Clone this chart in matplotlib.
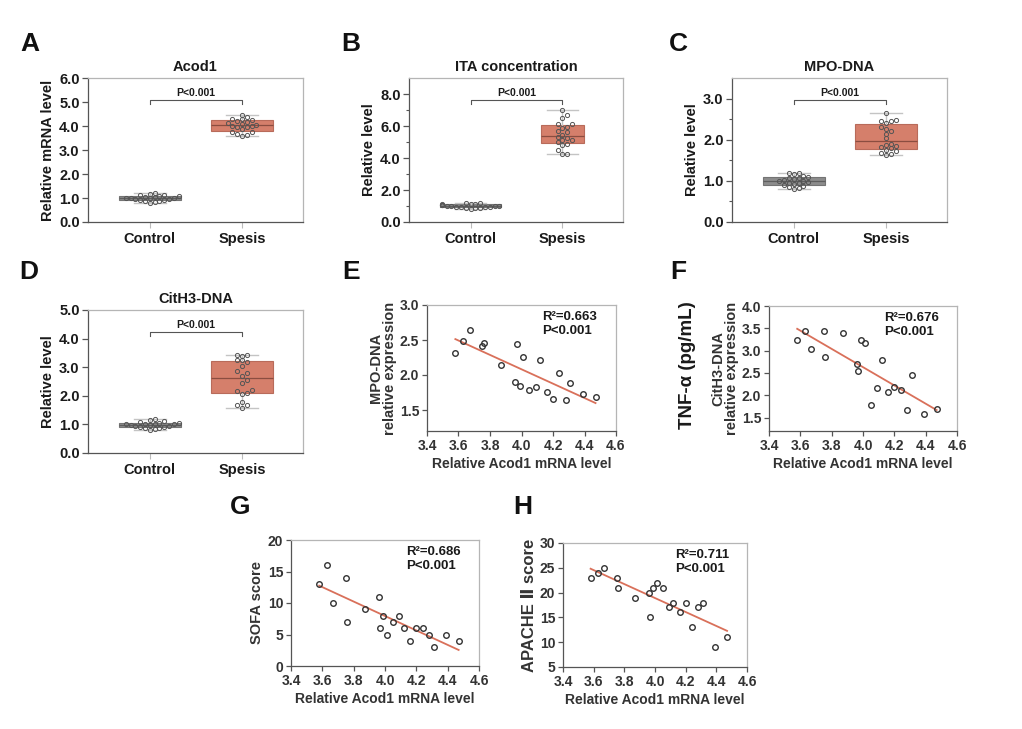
import numpy as np
import matplotlib
matplotlib.use("Agg")
import matplotlib.pyplot as plt

plt.rcParams['font.family'] = ['Liberation Sans', 'DejaVu Sans']
plt.rcParams['font.weight'] = 'bold'

# ---- data ----
categories = ['Control', 'Spesis']

# Acod1 mRNA level of the sepsis patients (also the x of panels E-H)
acod1_sepsis = [3.58, 3.63, 3.67, 3.75, 3.76, 3.87, 3.96, 3.97, 3.99, 4.01,
                4.05, 4.09, 4.12, 4.16, 4.20, 4.24, 4.28, 4.31, 4.39, 4.47]
mpo_sepsis = [2.31, 2.48, 2.64, 2.41, 2.46, 2.15, 1.90, 2.45, 1.85, 2.26,
              1.79, 1.83, 2.21, 1.76, 1.66, 2.03, 1.64, 1.88, 1.73, 1.68]
cith3_sepsis = [3.24, 3.43, 3.03, 3.43, 2.85, 3.40, 2.70, 2.55, 3.24, 3.17,
                1.79, 2.16, 2.80, 2.08, 2.19, 2.11, 1.67, 2.46, 1.59, 1.69]
sofa_score = [13, 16, 10, 14, 7, 9, 11, 6, 8, 5,
              7, 8, 6, 4, 6, 6, 5, 3, 5, 4]
apache_score = [23, 24, 25, 23, 21, 19, 20, 15, 21, 22,
                21, 17, 18, 16, 18, 13, 17, 18, 9, 11]
ita_sepsis = [4.25, 4.28, 4.50, 4.82, 4.90, 4.98, 5.10, 5.15, 5.28, 5.32,
              5.45, 5.60, 5.70, 5.90, 5.95, 6.10, 6.12, 6.53, 6.68, 7.02]

ctrl_acod1 = [0.80, 0.83, 0.86, 0.88, 0.91, 0.93, 0.95, 0.97, 0.98, 0.99,
              1.00, 1.01, 1.03, 1.05, 1.07, 1.09, 1.11, 1.14, 1.18, 1.22]
ctrl_ita = [0.82, 0.85, 0.88, 0.90, 0.92, 0.93, 0.95, 0.96, 0.98, 0.99,
            1.01, 1.02, 1.04, 1.06, 1.08, 1.10, 1.12, 1.14, 1.16, 1.19]
ctrl_mpo = [0.81, 0.82, 0.85, 0.88, 0.90, 0.92, 0.94, 0.96, 0.98, 1.00,
            1.00, 1.02, 1.04, 1.06, 1.08, 1.10, 1.13, 1.16, 1.18, 1.19]
ctrl_cith3 = [0.82, 0.85, 0.87, 0.89, 0.91, 0.92, 0.94, 0.96, 0.98, 0.99,
              1.00, 1.01, 1.02, 1.03, 1.04, 1.05, 1.07, 1.12, 1.17, 1.19]

r2_values = ['0.663', '0.676', '0.686', '0.711']
p_text = 'P<0.001'

TXT = '#1a1a1a'
GRAY_BOX = '#8c8c8c'
SALMON = '#d57f6b'
LINE_RED = '#d9705a'

W, H = 1022, 729
fig = plt.figure(figsize=(W / 100, H / 100), dpi=100)


def add_ax(left, top, right, bottom):
    return fig.add_axes([left / W, 1 - bottom / H, (right - left) / W, (bottom - top) / H])


def style_spines(ax):
    for s in ['top', 'right']:
        ax.spines[s].set_color('#b5b5b5')
    for s in ['left', 'bottom']:
        ax.spines[s].set_color('#555555')
    for s in ax.spines.values():
        s.set_linewidth(0.9)


def swarm(vals, ax, xlim, ylim, step_px=4.8, diam_px=4.4):
    # spread points sideways so they do not overlap (like a dot plot)
    bb = ax.get_position()
    wpx, hpx = bb.width * W, bb.height * H
    vals = np.asarray(vals, float)
    ypx = (vals - ylim[0]) / (ylim[1] - ylim[0]) * hpx
    placed = []
    out = np.zeros(len(vals))
    for i in np.argsort(vals):
        y = ypx[i]
        for k in [0, 1, -1, 2, -2, 3, -3, 4, -4, 5, -5, 6, -6]:
            x = k * step_px
            if all((x - px) ** 2 + (y - py) ** 2 >= diam_px ** 2 for px, py in placed):
                break
        placed.append((x, y))
        out[i] = x
    return out / wpx * (xlim[1] - xlim[0])


def box_stats(vals):
    v = np.asarray(vals, float)
    q1, med, q3 = np.percentile(v, [25, 50, 75], method='weibull')
    return dict(med=med, q1=q1, q3=q3, whislo=v.min(), whishi=v.max(), fliers=[])


def box_panel(ax, ctrl, seps, title, ylabel, ylim, yticks, minor=None, widths=(0.67, 0.67)):
    xlim = (-0.67, 1.66)
    ax.set_xlim(*xlim)
    ax.set_ylim(*ylim)
    colors = [GRAY_BOX, SALMON]
    edges = ['#747474', '#b86b5a']
    meds = ['#5e5e5e', '#8b4d40']
    for i, data in enumerate([ctrl, seps]):
        ax.bxp([box_stats(data)], positions=[i], widths=widths[i], capwidths=0.34,
               patch_artist=True, showfliers=False,
               boxprops=dict(facecolor=colors[i], edgecolor=edges[i], linewidth=0.8),
               whiskerprops=dict(color='#c4c4c4', linewidth=1.0),
               capprops=dict(color='#c4c4c4', linewidth=1.0),
               medianprops=dict(color=meds[i], linewidth=0.9))
        off = swarm(data, ax, xlim, ylim)
        ax.plot(i + off, data, 'o', ms=3.0, mfc='none', mec='#555555', mew=0.7, zorder=5)
    style_spines(ax)
    ax.set_xticks([0, 1])
    ax.set_xticklabels(categories, fontsize=10.5, fontweight='bold', color=TXT)
    ax.tick_params(axis='x', length=4, color='#bbbbbb', pad=3)
    ax.set_yticks(yticks)
    ax.set_yticklabels([f'{t:.1f}' for t in yticks], fontsize=10.5, fontweight='bold', color=TXT)
    ax.tick_params(axis='y', length=4, color='#555555', width=0.9, pad=2)
    if minor is not None:
        ax.set_yticks(minor, minor=True)
        ax.tick_params(axis='y', which='minor', length=2.5, color='#555555', width=0.8)
    ax.set_ylabel(ylabel, fontsize=10.5, fontweight='bold', color=TXT, labelpad=3)
    ax.set_title(title, fontsize=10.5, fontweight='bold', color=TXT, pad=5)
    # significance bracket
    tr = ax.get_xaxis_transform()
    ax.plot([0, 0, 1, 1], [0.82, 0.847, 0.847, 0.82], color='#555555', lw=0.8, transform=tr)
    ax.text(0.5, 0.895, p_text, transform=tr, ha='center', va='center',
            fontsize=7.5, fontweight='bold', color=TXT)


def scatter_panel(ax, x, y, ylabel, ylim, yticks, r2, fmt, lab_size=10.5, lab_pad=2):
    ax.set_xlim(3.4, 4.6)
    ax.set_ylim(*ylim)
    ax.plot(x, y, 'o', ms=4.0, mfc='none', mec='#333333', mew=1.0, zorder=5)
    k, b = np.polyfit(x, y, 1)
    xx = np.array([min(x), max(x)])
    ax.plot(xx, k * xx + b, color=LINE_RED, lw=1.3, zorder=4)
    style_spines(ax)
    xt = [3.4, 3.6, 3.8, 4.0, 4.2, 4.4, 4.6]
    ax.set_xticks(xt)
    ax.set_xticklabels([f'{t:.1f}' for t in xt], fontsize=10, fontweight='bold', color='#333333')
    ax.set_yticks(yticks)
    ax.set_yticklabels([fmt.format(t) for t in yticks], fontsize=10, fontweight='bold', color='#333333')
    ax.tick_params(length=3.5, color='#555555', width=0.9, pad=2)
    ax.set_xlabel('Relative Acod1 mRNA level', fontsize=10, fontweight='bold', color='#333333', labelpad=3)
    ax.set_ylabel(ylabel, fontsize=lab_size, fontweight='bold', color='#333333',
                  labelpad=lab_pad, linespacing=1.0)
    ax.text(0.61, 0.95, f'R\u00b2={r2}\n{p_text}', transform=ax.transAxes, ha='left', va='top',
            fontsize=9.5, fontweight='bold', color=TXT, linespacing=1.15)


axA = add_ax(88, 78, 303, 222)
box_panel(axA, ctrl_acod1, acod1_sepsis, 'Acod1', 'Relative mRNA level',
          (0, 6), [0, 1, 2, 3, 4, 5, 6])
axB = add_ax(409, 78, 623, 222)
box_panel(axB, ctrl_ita, ita_sepsis, 'ITA concentration', 'Relative level',
          (0, 9), [0, 2, 4, 6, 8], minor=[1, 3, 5, 7], widths=(0.67, 0.47))
axC = add_ax(732, 78, 947, 222)
box_panel(axC, ctrl_mpo, mpo_sepsis, 'MPO-DNA', 'Relative level',
          (0, 3.5), [0, 1, 2, 3], minor=[0.5, 1.5, 2.5])
axD = add_ax(88, 310, 303, 453)
box_panel(axD, ctrl_cith3, cith3_sepsis, 'CitH3-DNA', 'Relative level',
          (0, 5), [0, 1, 2, 3, 4, 5])

axE = add_ax(427, 305, 616, 431)
scatter_panel(axE, acod1_sepsis, mpo_sepsis, 'MPO-DNA\nrelative expression',
              (1.2, 3.0), [1.5, 2.0, 2.5, 3.0], r2_values[0], '{:.1f}')
axF = add_ax(769, 306, 957, 431)
scatter_panel(axF, acod1_sepsis, cith3_sepsis, 'CitH3-DNA\nrelative expression',
              (1.2, 4.0), [1.5, 2.0, 2.5, 3.0, 3.5, 4.0], r2_values[1], '{:.1f}')
axG = add_ax(291, 540, 479, 666)
scatter_panel(axG, acod1_sepsis, sofa_score, 'SOFA score',
              (0, 20), [0, 5, 10, 15, 20], r2_values[2], '{:.0f}', lab_size=10.5, lab_pad=3)
axH = add_ax(563, 543, 747, 667)
scatter_panel(axH, acod1_sepsis, apache_score, 'APACHE \u2161 score',
              (5, 30), [5, 10, 15, 20, 25, 30], r2_values[3], '{:.0f}', lab_size=12, lab_pad=2)

# stray axis title left over on panel F
fig.text(688 / W, 1 - 365 / H, 'TNF-\u03b1 (pg/mL)', rotation=90, ha='center', va='center',
         fontsize=13.5, fontweight='bold', color=TXT)

# panel letters
letters = ['A', 'B', 'C', 'D', 'E', 'F', 'G', 'H']
letter_pos = [(30, 44), (351, 44), (678, 44), (29, 272), (351, 272), (678, 272), (240, 507), (523, 507)]
for lt, (px, py) in zip(letters, letter_pos):
    fig.text(px / W, 1 - py / H, lt, ha='center', va='center', fontsize=19,
             fontweight='heavy', color='#111111')

fig.savefig('out.png', dpi=100)
